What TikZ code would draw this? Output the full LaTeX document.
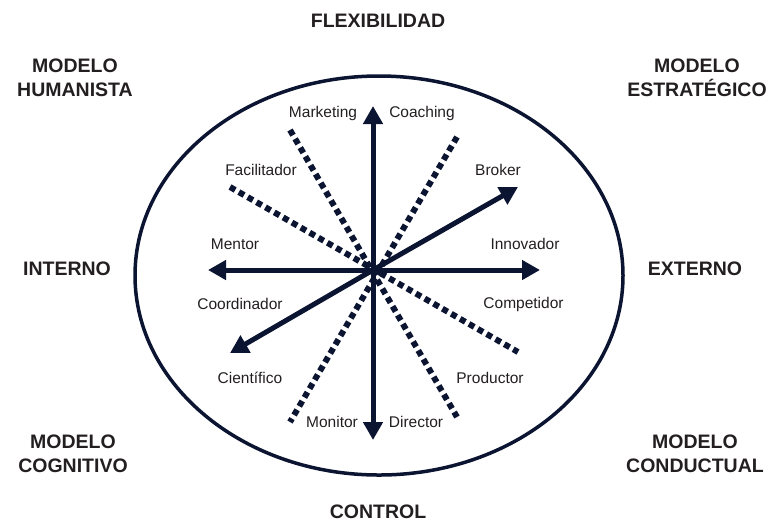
\documentclass[tikz,border=0pt]{standalone}
\usepackage{fontspec}
\setmainfont{Liberation Sans}
\usetikzlibrary{arrows.meta}
\definecolor{navy}{HTML}{0B1431}
\definecolor{txt}{HTML}{231F20}
\begin{document}
\begin{tikzpicture}[x=1pt,y=-1pt,
  role/.style={text=txt,font=\fontsize{15.5}{18}\selectfont,inner sep=0pt},
  pole/.style={text=txt,font=\fontsize{19.5}{23.5}\selectfont\bfseries,inner sep=0pt,align=center},
  axis/.style={navy,line width=5pt,-{Triangle[length=18pt,width=19pt]}},
  dots/.style={navy,line width=6pt,dash pattern=on 6pt off 4.2pt},
  rim/.style={navy,line width=3.5pt}]
\useasboundingbox (0,0) rectangle (770,523);
\draw[rim] (379,275.5) ellipse [x radius=244, y radius=199.5];
% coordinates
\coordinate (c) at (373,270);
\coordinate (n) at (373,106);
\coordinate (s) at (373,440);
\coordinate (w) at (208,270);
\coordinate (e) at (540,270);
\coordinate (ne) at (518,187);
\coordinate (sw) at (230,353);
\coordinate (d1a) at (290,130);
\coordinate (d1b) at (457,417);
\coordinate (d2a) at (457,137);
\coordinate (d2b) at (290,422);
\coordinate (d3a) at (230,187);
\coordinate (d3b) at (518,352);
% dotted lines
\draw[dots] (d1a) -- (d1b);
\draw[dots] (d2a) -- (d2b);
\draw[dots] (d3a) -- (d3b);
% arrows
\draw[axis] (c) -- (n);
\draw[axis] (c) -- (s);
\draw[axis] (c) -- (w);
\draw[axis] (c) -- (e);
\draw[axis] (c) -- (ne);
\draw[axis] (c) -- (sw);
% role labels
\node[role] (marketing) at (323,113) {Marketing};
\node[role] (coaching) at (422,113) {Coaching};
\node[role] (facilitador) at (261,170) {Facilitador};
\node[role] (broker) at (498,170) {Broker};
\node[role] (mentor) at (235,244) {Mentor};
\node[role] (innovador) at (525,244) {Innovador};
\node[role] (coordinador) at (240,304) {Coordinador};
\node[role] (competidor) at (523.5,304) {Competidor};
\node[role] (cientifico) at (250,378) {Científico};
\node[role] (productor) at (490,378) {Productor};
\node[role] (monitor) at (332,422) {Monitor};
\node[role] (director) at (416,422) {Director};
% pole labels
\node[pole] (flex) at (378,21) {FLEXIBILIDAD};
\node[pole] (control) at (378,512) {CONTROL};
\node[pole] (interno) at (67,269) {INTERNO};
\node[pole] (externo) at (695,269) {EXTERNO};
\node[pole] (hum) at (75,78) {MODELO\\HUMANISTA};
\node[pole] (est) at (697,78) {MODELO\\ESTRATÉGICO};
\node[pole] (cog) at (73,454) {MODELO\\COGNITIVO};
\node[pole] (con) at (695,454) {MODELO\\CONDUCTUAL};
\end{tikzpicture}
\end{document}
